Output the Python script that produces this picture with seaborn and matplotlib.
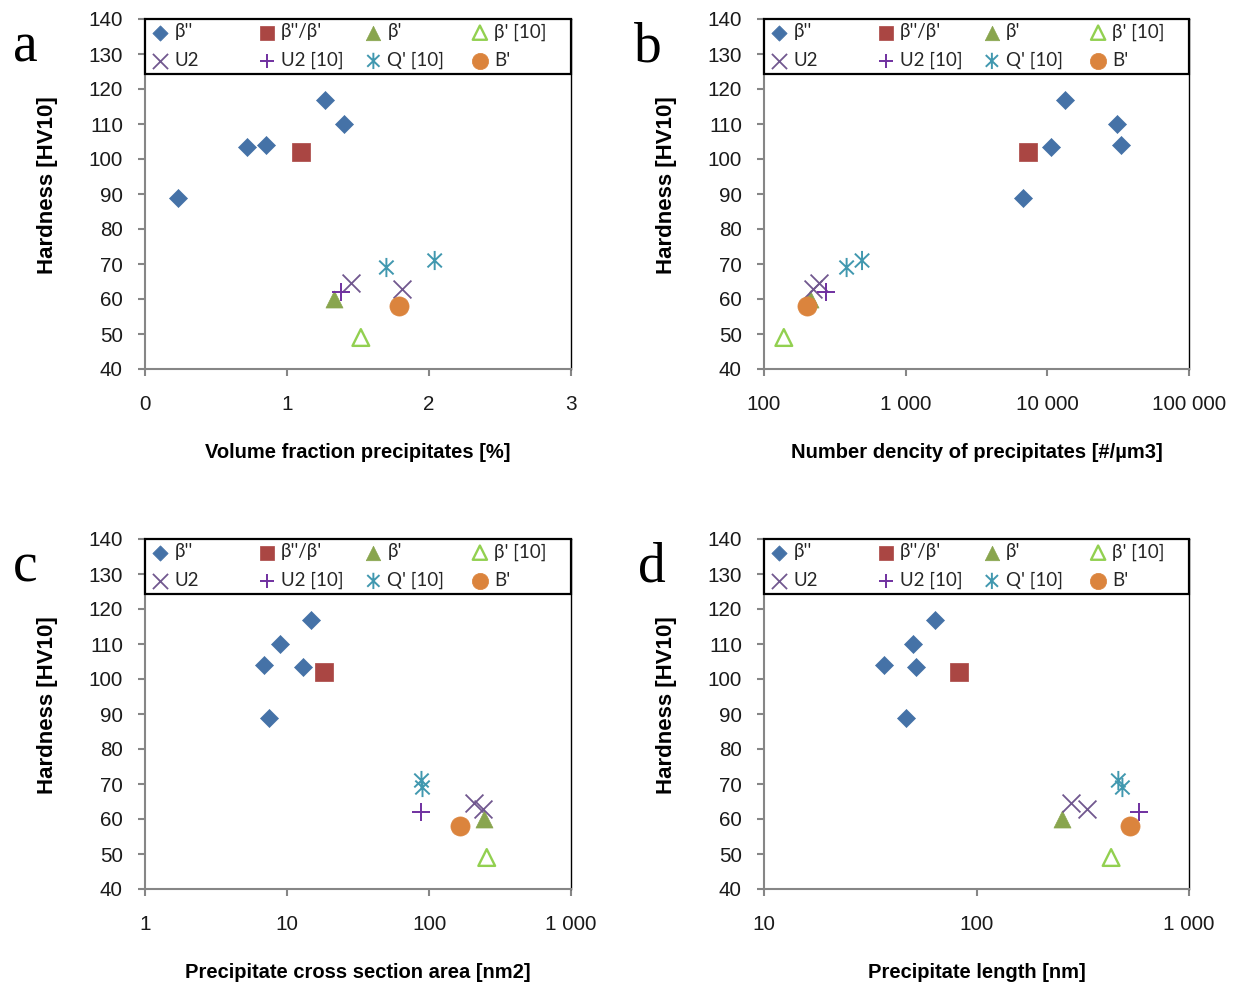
import numpy as np
import matplotlib
matplotlib.use("Agg")
import matplotlib.pyplot as plt
from matplotlib import font_manager
from matplotlib.path import Path
from matplotlib.patches import Rectangle
from matplotlib.ticker import FixedLocator, FixedFormatter, NullLocator
import seaborn as sns

# ---------------- data ----------------
series_labels = ["β''", "β''/β'", "β'", "β' [10]", "U2", "U2 [10]", "Q' [10]", "B'"]

hard_beta_dd = [117, 110, 104, 103.5, 89]
hard_beta_mix = [102]
hard_beta_p = [60]
hard_beta_p10 = [49]
hard_u2 = [64.7, 63]
hard_u2_10 = [62]
hard_q10 = [71, 69]
hard_b = [58]

# panel a: volume fraction precipitates [%]
vf_beta_dd = [1.27, 1.40, 0.85, 0.72, 0.23]
vf_beta_mix = [1.10]
vf_beta_p = [1.33]
vf_beta_p10 = [1.52]
vf_u2 = [1.45, 1.81]
vf_u2_10 = [1.38]
vf_q10 = [2.04, 1.70]
vf_b = [1.79]

# panel b: number density [#/um3]
nd_beta_dd = [13250, 30800, 33050, 10550, 6690]
nd_beta_mix = [7260]
nd_beta_p = [211]
nd_beta_p10 = [138]
nd_u2 = [245, 222]
nd_u2_10 = [272]
nd_q10 = [492, 383]
nd_b = [200]

# panel c: cross section area [nm2]
ca_beta_dd = [14.8, 8.97, 6.92, 12.97, 7.43]
ca_beta_mix = [18.1]
ca_beta_p = [244]
ca_beta_p10 = [255]
ca_u2 = [208, 241]
ca_u2_10 = [87.4]
ca_q10 = [88.5, 90]
ca_b = [166]

# panel d: precipitate length [nm]
len_beta_dd = [64.0, 50.4, 36.7, 51.9, 46.7]
len_beta_mix = [83]
len_beta_p = [253]
len_beta_p10 = [430]
len_u2 = [277, 330]
len_u2_10 = [582]
len_q10 = [465, 486]
len_b = [527]

y_ticks = [40, 50, 60, 70, 80, 90, 100, 110, 120, 130, 140]
xa_ticks = [0, 1, 2, 3]
xa_labels = ["0", "1", "2", "3"]
xb_ticks = [100, 1000, 10000, 100000]
xb_labels = ["100", "1 000", "10 000", "100 000"]
xc_ticks = [1, 10, 100, 1000]
xc_labels = ["1", "10", "100", "1 000"]
xd_ticks = [10, 100, 1000]
xd_labels = ["10", "100", "1 000"]

x_titles = ["Volume fraction precipitates [%]",
            "Number dencity of precipitates [#/µm3]",
            "Precipitate cross section area [nm2]",
            "Precipitate length [nm]"]
panel_letters = ["a", "b", "c", "d"]

# ---------------- style ----------------
sns.set_theme(style="white")


def have(fam):
    try:
        font_manager.findfont(font_manager.FontProperties(family=fam), fallback_to_default=False)
        return True
    except Exception:
        return False


narrow = "Liberation Sans Narrow" if have("Liberation Sans Narrow") else "Liberation Sans"
narrow_scale = 1.0 if narrow == "Liberation Sans Narrow" else 0.9
plt.rcParams["font.family"] = ["Liberation Sans", "DejaVu Sans"]
legend_font = ["Lato", "DejaVu Sans"] if have("Lato") else ["Open Sans", "DejaVu Sans"]

asterisk = Path(
    [(0, -1), (0, 1), (-0.75, -0.72), (0.75, 0.72), (-0.75, 0.72), (0.75, -0.72)],
    [Path.MOVETO, Path.LINETO, Path.MOVETO, Path.LINETO, Path.MOVETO, Path.LINETO],
)

styles = [
    dict(marker="D", s=84, color="#4572A7", edgecolor="#4572A7", linewidth=0.5),
    dict(marker="s", s=160, color="#AA4643", edgecolor="#AA4643", linewidth=0.5),
    dict(marker="^", s=150, color="#89A54E", edgecolor="#89A54E", linewidth=0.5),
    dict(marker="^", s=145, facecolor="none", edgecolor="#92D050", linewidth=1.7),
    dict(marker="x", s=165, color="#71588F", linewidth=1.3),
    dict(marker="+", s=155, color="#7030A0", linewidth=1.4),
    dict(marker=asterisk, s=190, facecolor="none", edgecolor="#4198AF", linewidth=1.4),
    dict(marker="o", s=190, color="#DB843D", edgecolor="#DB843D", linewidth=0.5),
]

hard_all = [hard_beta_dd, hard_beta_mix, hard_beta_p, hard_beta_p10,
            hard_u2, hard_u2_10, hard_q10, hard_b]
panels = [
    [vf_beta_dd, vf_beta_mix, vf_beta_p, vf_beta_p10, vf_u2, vf_u2_10, vf_q10, vf_b],
    [nd_beta_dd, nd_beta_mix, nd_beta_p, nd_beta_p10, nd_u2, nd_u2_10, nd_q10, nd_b],
    [ca_beta_dd, ca_beta_mix, ca_beta_p, ca_beta_p10, ca_u2, ca_u2_10, ca_q10, ca_b],
    [len_beta_dd, len_beta_mix, len_beta_p, len_beta_p10, len_u2, len_u2_10, len_q10, len_b],
]
xlims = [(0, 3), (100, 100000), (1, 1000), (10, 1000)]
xscales = ["linear", "log", "log", "log"]
xticks = [(xa_ticks, xa_labels), (xb_ticks, xb_labels), (xc_ticks, xc_labels), (xd_ticks, xd_labels)]

W, H = 1236, 985
fig = plt.figure(figsize=(W / 100, H / 100), dpi=100)
fig.patch.set_facecolor("white")

# pixel boxes (left, top, right, bottom)
boxes = [(145, 19, 571, 369), (764, 19, 1189, 369), (145, 539, 571, 889), (764, 539, 1189, 889)]
letter_pos = [(25, 62), (648, 62), (25, 582), (652, 582)]

gray = "#868686"
leg_fs = 13.5
for i, (l, t, r, b) in enumerate(boxes):
    aw, ah = r - l, b - t
    ax = fig.add_axes([l / W, 1 - b / H, aw / W, ah / H])
    ax.set_facecolor("white")
    handles = []
    for xs, ys, st, lab in zip(panels[i], hard_all, styles, series_labels):
        kw = dict(st)
        sns.scatterplot(x=xs, y=ys, ax=ax, label=lab, zorder=3, clip_on=False, legend=False, **kw)
        handles.append(ax.collections[-1])
    ax.set_xscale(xscales[i])
    ax.set_xlim(*xlims[i])
    ax.set_ylim(40, 140)
    ax.yaxis.set_major_locator(FixedLocator(y_ticks))
    ax.xaxis.set_major_locator(FixedLocator(xticks[i][0]))
    ax.xaxis.set_major_formatter(FixedFormatter(xticks[i][1]))
    ax.xaxis.set_minor_locator(NullLocator())
    ax.yaxis.set_minor_locator(NullLocator())

    for side in ["left", "bottom"]:
        ax.spines[side].set_color(gray)
        ax.spines[side].set_linewidth(1.5)
    for side in ["right", "top"]:
        ax.spines[side].set_color("black")
        ax.spines[side].set_linewidth(1.0)
    ax.tick_params(axis="y", which="major", direction="out", length=5, width=1.5, color=gray,
                   pad=11, left=True, labelsize=16.5 * narrow_scale, labelcolor="#1a1a1a")
    ax.tick_params(axis="x", which="major", direction="out", length=5, width=1.5, color=gray,
                   pad=14, bottom=True, labelsize=16.5 * narrow_scale, labelcolor="#1a1a1a")
    for lbl in ax.get_xticklabels() + ax.get_yticklabels():
        lbl.set_fontfamily([narrow, "DejaVu Sans"])

    ax.set_ylabel("Hardness [HV10]", fontsize=16, fontweight="bold", color="black")
    ax.yaxis.set_label_coords(-87 / aw, 0.525)
    ax.set_xlabel(x_titles[i], fontsize=16.5 * 0.88, fontweight="bold", color="black",
                  family=[narrow, "DejaVu Sans"])
    ax.xaxis.set_label_coords(0.5, -83 / ah)
    ax.xaxis.label.set_va("center")

    # legend frame spanning the top of the plot area
    frame_h = 55 / ah
    ax.add_patch(Rectangle((0, 1 - frame_h), 1, frame_h, transform=ax.transAxes,
                           facecolor="white", edgecolor="black", linewidth=1.6,
                           zorder=4, clip_on=False))
    # four equally spaced legend columns (row-wise order like the reference)
    for j in range(4):
        col = [j, j + 4]
        leg = ax.legend([handles[k] for k in col], [series_labels[k] for k in col],
                        loc="upper left", bbox_to_anchor=((15 - 9) / aw + j * 0.25, 1 - 4.5 / ah),
                        borderaxespad=0, borderpad=0, frameon=False,
                        markerscale=0.85, handlelength=1.0, handletextpad=0.25,
                        labelspacing=0.6, prop=dict(family=legend_font, size=leg_fs),
                        scatterpoints=1)
        leg.set_zorder(5)
        if j < 3:
            ax.add_artist(leg)

    lx, ly = letter_pos[i]
    fig.text(lx / W, 1 - ly / H, panel_letters[i], fontsize=40, family=["Liberation Serif", "DejaVu Serif"],
             ha="center", va="baseline", color="black")

fig.savefig("out.png", dpi=100, facecolor="white")
